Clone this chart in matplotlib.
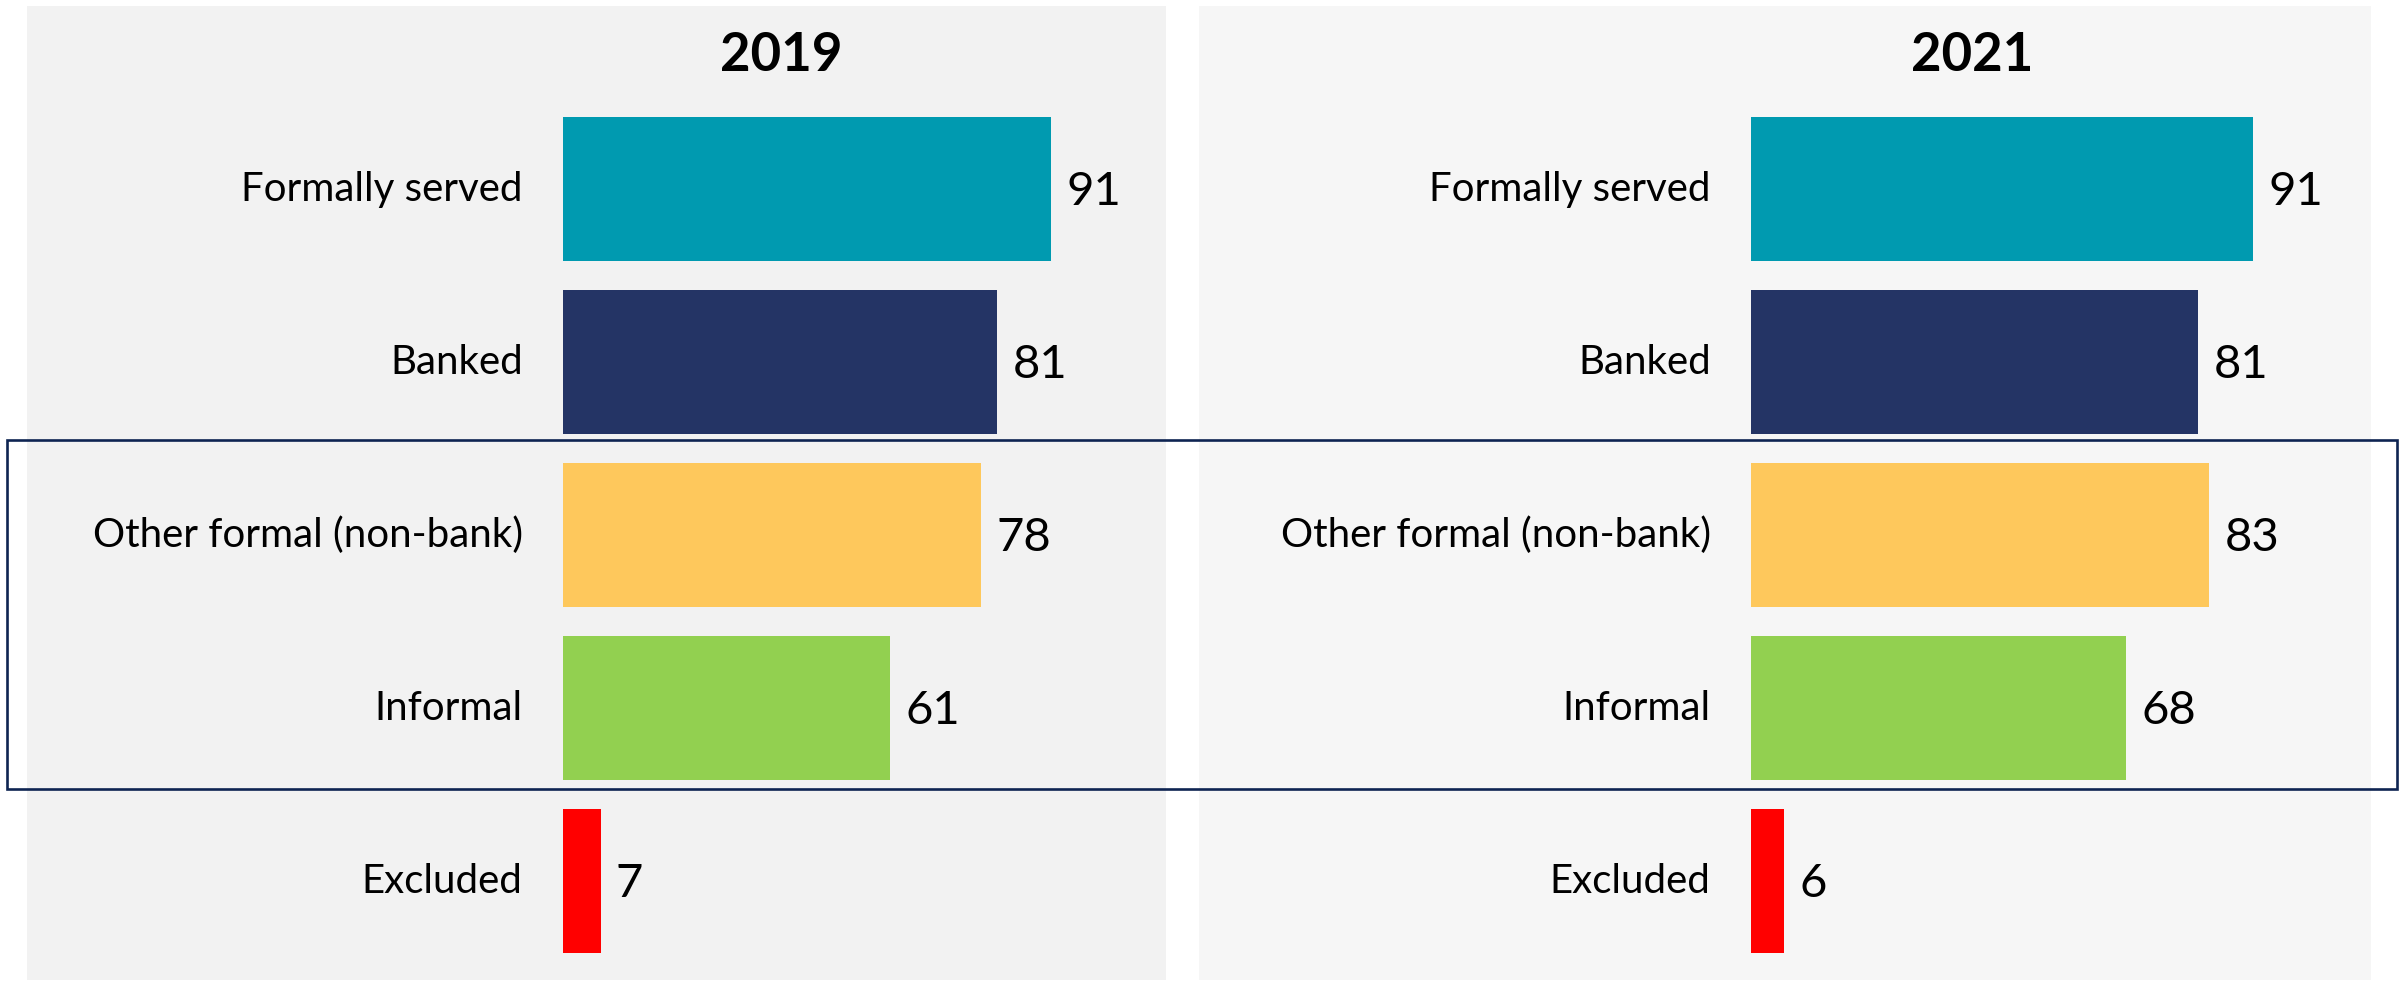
import matplotlib
matplotlib.use("Agg")
import matplotlib.pyplot as plt
from matplotlib.patches import Rectangle

# financial access strands, share of adults (%)
categories = ["Formally served", "Banked", "Other formal (non-bank)", "Informal", "Excluded"]
years = ["2019", "2021"]
values_2019 = [91, 81, 78, 61, 7]
values_2021 = [91, 81, 83, 68, 6]
colors = ["#009AB0", "#243465", "#FEC85C", "#92D050", "#FF0000"]

W, H = 2402, 984
fig = plt.figure(figsize=(W / 100, H / 100), dpi=100)
plt.rcParams["font.family"] = ["Lato", "DejaVu Sans"]


def box(x0, y0, x1, y1):
    # pixel box (top-left origin) -> figure fraction [left, bottom, width, height]
    return [x0 / W, 1 - y1 / H, (x1 - x0) / W, (y1 - y0) / H]


# panel backgrounds
for (x0, x1), bg in zip([(27, 1166), (1199, 2371)], ["#F2F2F2", "#F6F6F6"]):
    l, b, w, h = box(x0, 6, x1, 980)
    fig.add_artist(Rectangle((l, b), w, h, transform=fig.transFigure,
                             facecolor=bg, edgecolor="none", zorder=0))

panels = [
    (years[0], values_2019, 563, 5.36, 781),
    (years[1], values_2021, 1751, 5.52, 1972),
]

for year, vals, x0, px_per_unit, title_x in panels:
    ax = fig.add_axes(box(x0, 102.5, x0 + 100 * px_per_unit, 967.5))
    ax.patch.set_alpha(0)
    ypos = range(len(categories))
    ax.barh(ypos, vals, height=0.83, color=colors)
    ax.set_xlim(0, 100)
    ax.set_ylim(len(categories) - 0.5, -0.5)
    ax.set_yticks(list(ypos))
    ax.set_yticklabels(categories, fontsize=29, va="center")
    ax.tick_params(axis="y", length=0, pad=29)
    for lab in ax.get_yticklabels():
        lab.set_y(lab.get_position()[1])
    ax.set_xticks([])
    for s in ax.spines.values():
        s.set_visible(False)
    for i, v in enumerate(vals):
        ax.annotate(str(v), (v, i), xytext=(11, -2), textcoords="offset points",
                    ha="left", va="center", fontsize=34)
    fig.text(title_x / W, 1 - 71 / H, year, ha="center", va="baseline",
             fontsize=38, fontweight="bold")

# outline around the non-bank / informal rows
l, b, w, h = box(7, 440, 2397, 789)
fig.add_artist(Rectangle((l, b), w, h, transform=fig.transFigure,
                         facecolor="none", edgecolor="#0E2452", linewidth=1.9, zorder=5))

fig.savefig("out.png", dpi=100)
